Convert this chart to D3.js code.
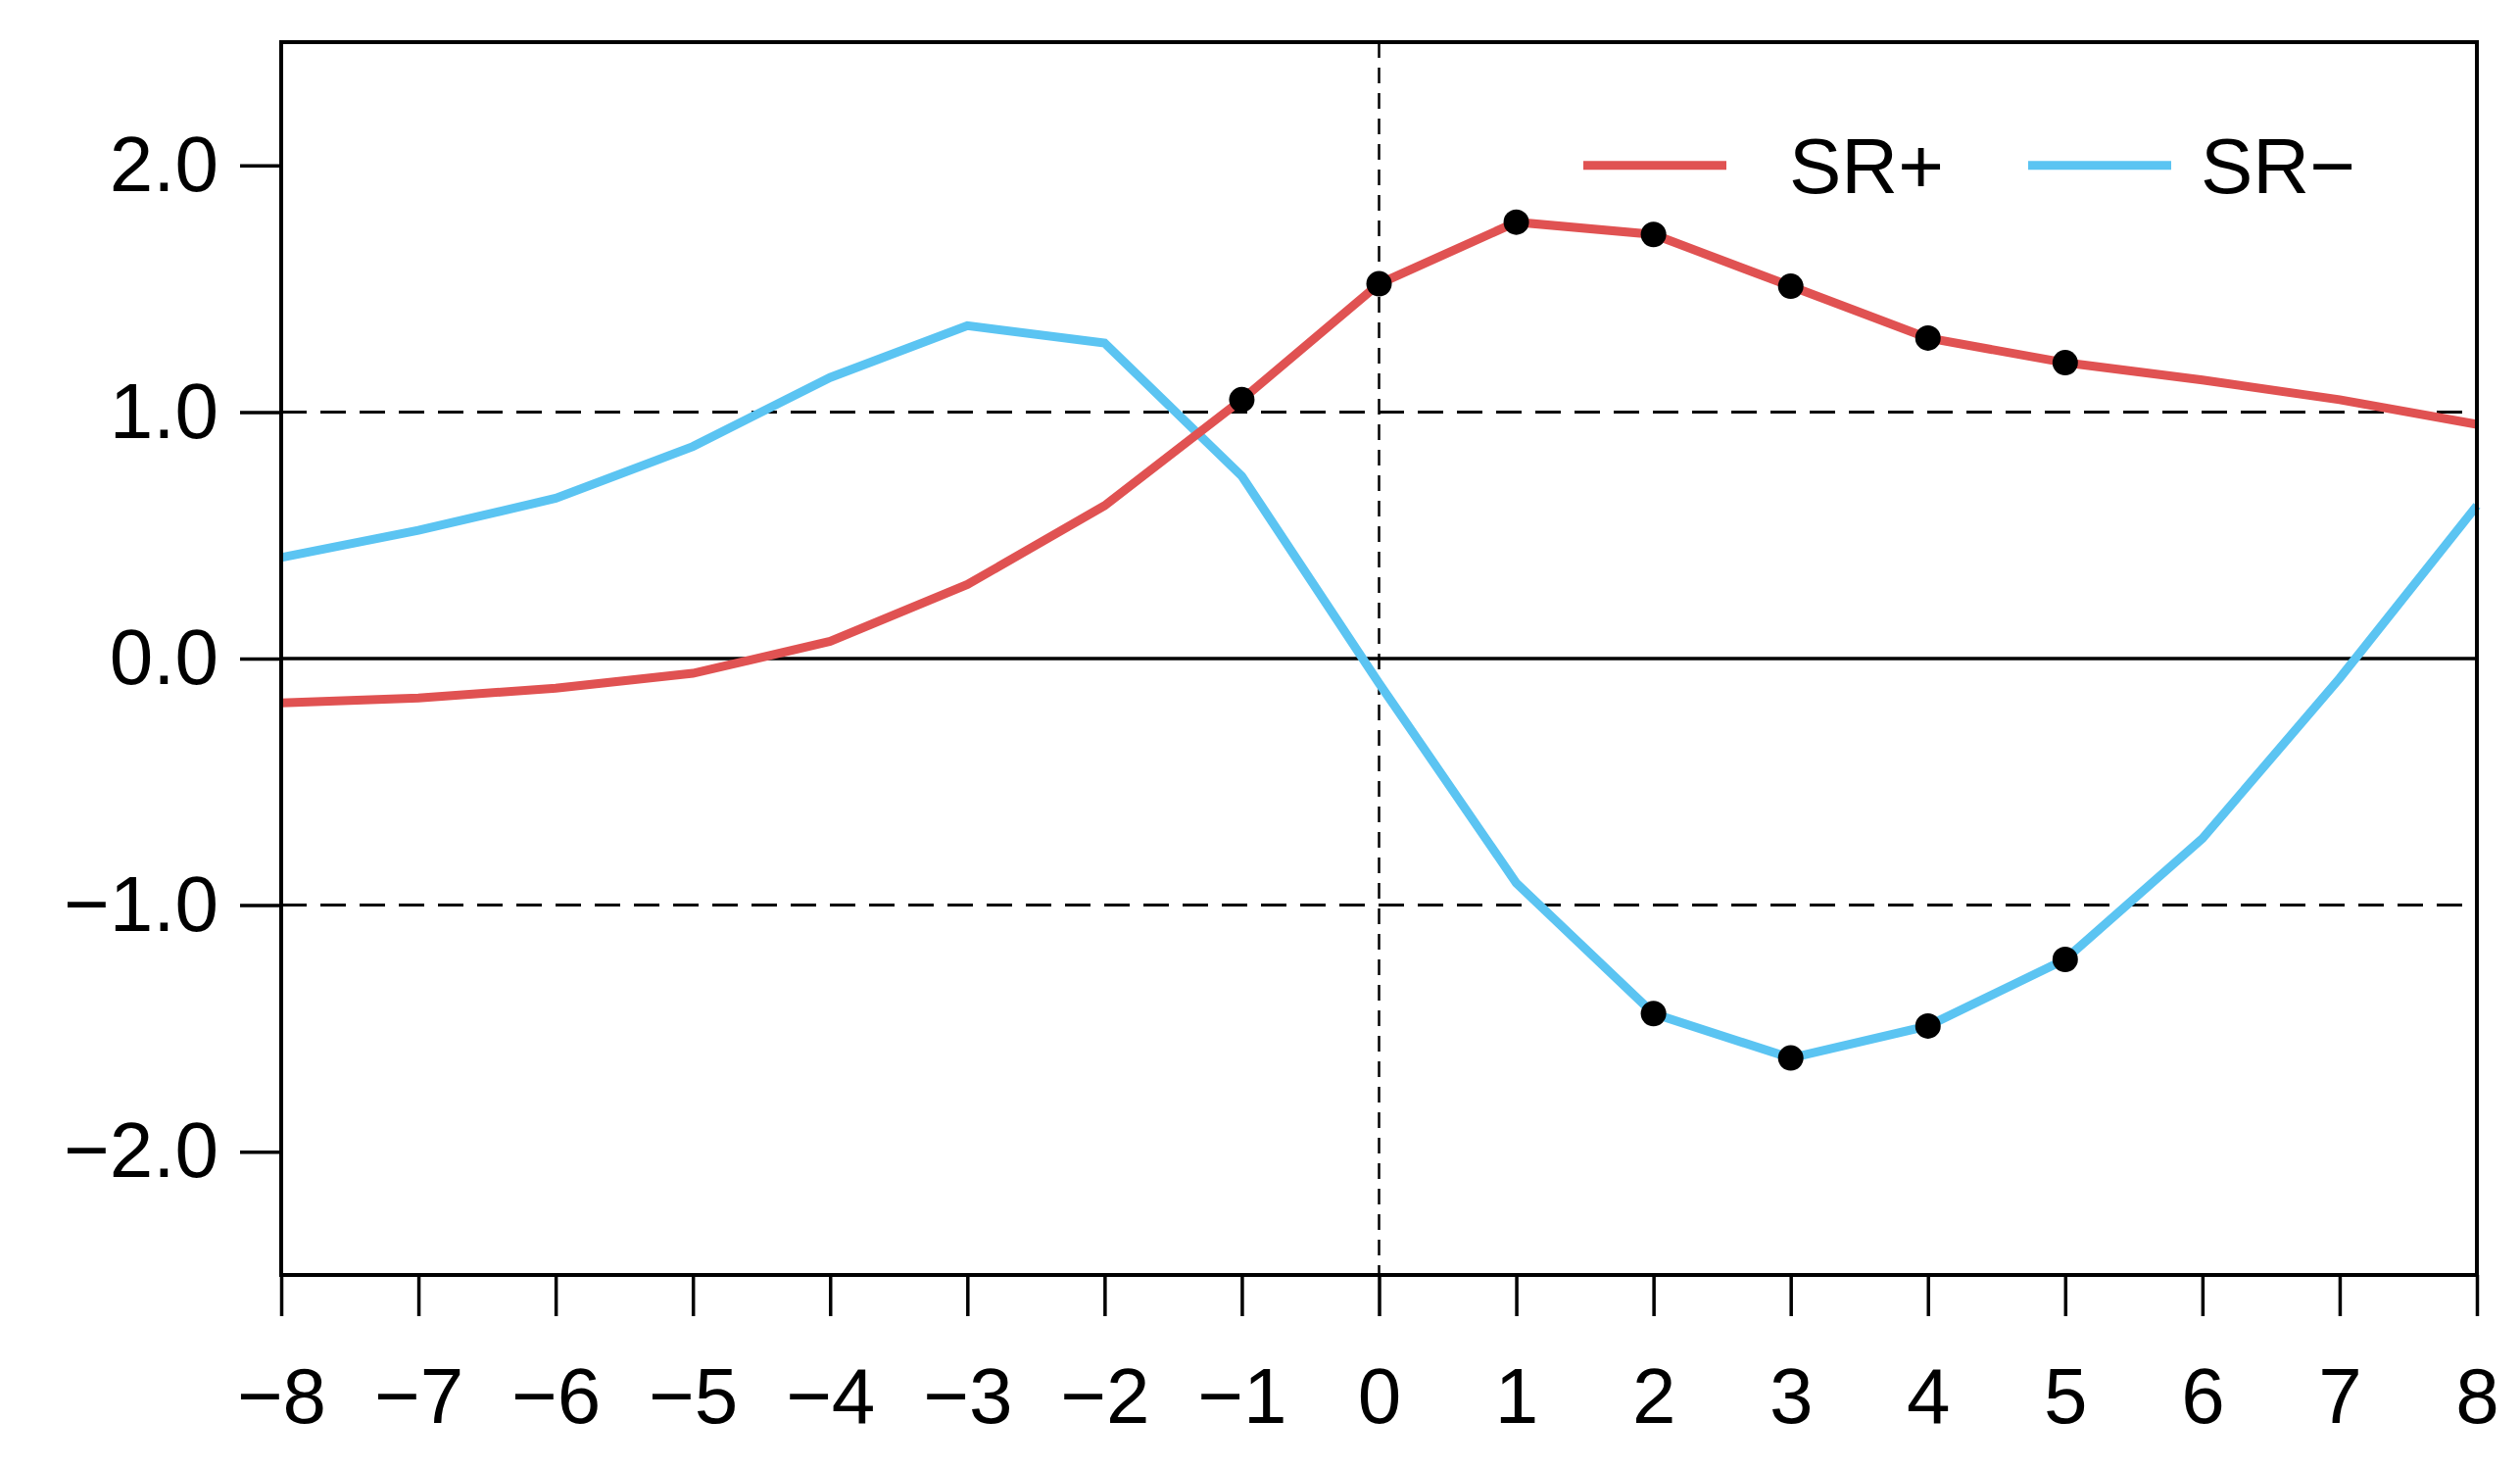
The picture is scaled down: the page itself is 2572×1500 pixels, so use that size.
<!DOCTYPE html><html><head><meta charset="utf-8"><script src="https://cdn.jsdelivr.net/npm/d3@7"></script>
<style>body{margin:0;background:#fff}text{font-family:"Liberation Sans",Arial,sans-serif}</style></head><body><svg id="c" width="2572" height="1500"></svg><script>
const lags=[-8,-7,-6,-5,-4,-3,-2,-1,0,1,2,3,4,5,6,7,8];
const srPlus=[-0.18,-0.16,-0.12,-0.06,0.07,0.30,0.62,1.05,1.52,1.77,1.72,1.51,1.30,1.20,1.13,1.05,0.95];
const srMinus=[0.41,0.52,0.65,0.86,1.14,1.35,1.28,0.74,-0.10,-0.91,-1.44,-1.62,-1.49,-1.22,-0.73,-0.08,0.62];
const sigPlus=[-1,0,1,2,3,4,5];
const sigMinus=[2,3,4,5];
const yTicks=[-2,-1,0,1,2];
const svg=d3.select("#c");
const L=287,R=2528,T=43,B=1301;
const x=d3.scaleLinear().domain([-8,8]).range([L,R]);
const y=d3.scaleLinear().domain([-2.5,2.5]).range([B,T]);
const g=svg.append("g");
[-1,1].forEach(v=>g.append("line").attr("x1",L).attr("x2",R).attr("y1",y(v)).attr("y2",y(v)).attr("stroke","#000").attr("stroke-width",3).attr("stroke-dasharray","26,14"));
g.append("line").attr("x1",L).attr("x2",R).attr("y1",y(0)).attr("y2",y(0)).attr("stroke","#000").attr("stroke-width",3.5);
g.append("line").attr("x1",x(0)).attr("x2",x(0)).attr("y1",T).attr("y2",B).attr("stroke","#000").attr("stroke-width",2.5).attr("stroke-dasharray","16,10");
const line=d3.line().x((d,i)=>x(lags[i])).y(d=>y(d));
g.append("path").datum(srMinus).attr("d",line).attr("fill","none").attr("stroke","#5bc4f2").attr("stroke-width",9);
g.append("path").datum(srPlus).attr("d",line).attr("fill","none").attr("stroke","#e05252").attr("stroke-width",9);
g.selectAll(".dp").data(sigPlus).enter().append("circle").attr("cx",d=>x(d)).attr("cy",d=>y(srPlus[lags.indexOf(d)])).attr("r",13).attr("fill","#000");
g.selectAll(".dm").data(sigMinus).enter().append("circle").attr("cx",d=>x(d)).attr("cy",d=>y(srMinus[lags.indexOf(d)])).attr("r",13).attr("fill","#000");
svg.append("rect").attr("x",L).attr("y",T).attr("width",R-L).attr("height",B-T).attr("fill","none").attr("stroke","#000").attr("stroke-width",4);
const ax=svg.append("g").attr("transform",`translate(0,${B})`).call(d3.axisBottom(x).tickValues(lags).tickSize(42).tickPadding(52).tickFormat(d=>d<0?"\u2212"+(-d):d));
ax.select(".domain").remove();
ax.selectAll("line").attr("stroke-width",3.5);
ax.selectAll("text").attr("font-size",80).attr("fill","#000");
const ay=svg.append("g").attr("transform",`translate(${L},0)`).call(d3.axisLeft(y).tickValues(yTicks).tickSize(42).tickPadding(22).tickFormat(d=>(d<0?"\u2212":"")+Math.abs(d).toFixed(1)));
ay.select(".domain").remove();
ay.selectAll("line").attr("stroke-width",3.5);
ay.selectAll("text").attr("font-size",80).attr("fill","#000");
const ly=y(2);
const leg=[{n:"SR+",c:"#e05252",x1:1616,tx:1826},{n:"SR\u2212",c:"#5bc4f2",x1:2070,tx:2246}];
leg.forEach(d=>{svg.append("line").attr("x1",d.x1).attr("x2",d.x1+146).attr("y1",ly).attr("y2",ly).attr("stroke",d.c).attr("stroke-width",9);
svg.append("text").attr("x",d.tx).attr("y",ly+28).attr("font-size",80).text(d.n);});
</script></body></html>
